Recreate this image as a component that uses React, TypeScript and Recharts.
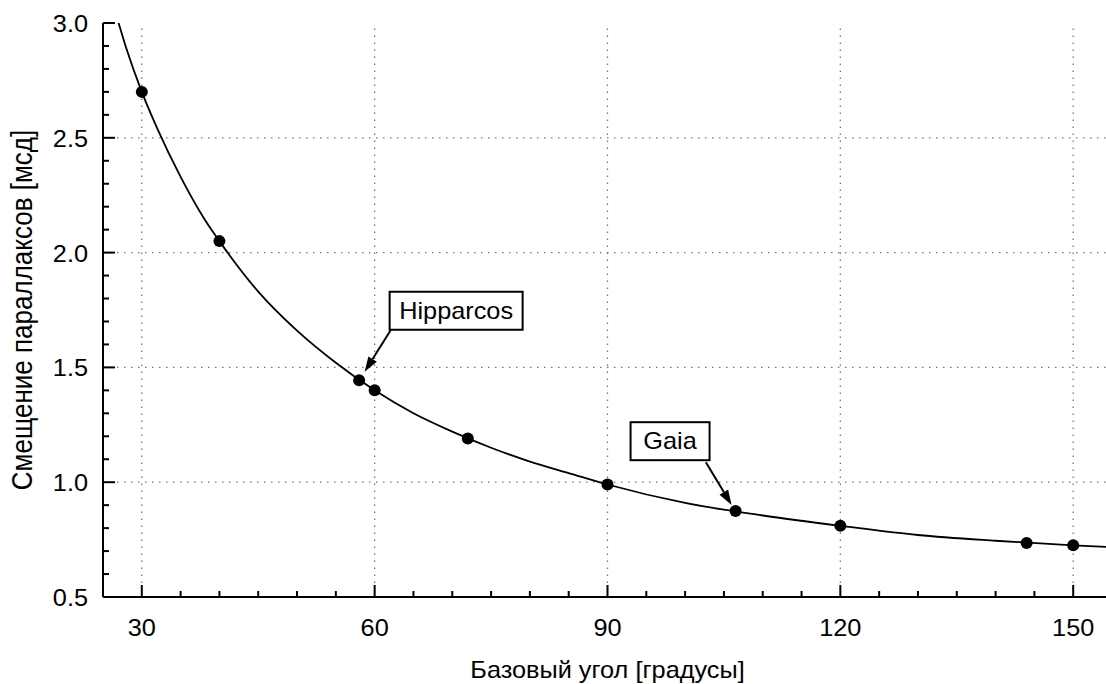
import { ComposedChart, Line, Scatter, XAxis, YAxis, ReferenceLine, ReferenceDot } from "recharts";

// fitted curve
const curveX = [26.5, 27, 28, 30, 32, 35, 38, 40, 45, 50, 55, 60, 65, 70, 75, 80, 85, 90, 100, 110, 120, 130, 140, 150, 155];
const curveY = [3.05, 3.0, 2.89, 2.7, 2.54, 2.33, 2.15, 2.05, 1.83, 1.66, 1.52, 1.4, 1.3, 1.22, 1.15, 1.09, 1.04, 0.99, 0.91, 0.855, 0.81, 0.77, 0.745, 0.725, 0.717];

// measured points
const pointX = [30, 40, 58, 60, 72, 90, 106.5, 120, 144, 150];
const pointY = [2.7, 2.05, 1.444, 1.4, 1.19, 0.99, 0.875, 0.81, 0.735, 0.725];

const xTicks = [25, 30, 35, 40, 45, 50, 55, 60, 65, 70, 75, 80, 85, 90, 95, 100, 105, 110, 115, 120, 125, 130, 135, 140, 145, 150, 155];
const xLabels = [30, 60, 90, 120, 150];
const yTicks = [0.5, 0.6, 0.7, 0.8, 0.9, 1.0, 1.1, 1.2, 1.3, 1.4, 1.5, 1.6, 1.7, 1.8, 1.9, 2.0, 2.1, 2.2, 2.3, 2.4, 2.5, 2.6, 2.7, 2.8, 2.9, 3.0];
const yLabels = [0.5, 1.0, 1.5, 2.0, 2.5, 3.0];

const annotationNames = ["Hipparcos", "Gaia"];
const annotationX = [58, 106.5];
const annotationY = [1.444, 0.875];

const xTitle = "Базовый угол [градусы]";
const yTitle = "Смещение параллаксов [мсд]";

const curveData = curveX.map((x, i) => ({ x, y: curveY[i] }));
const pointData = pointX.map((x, i) => ({ x, y: pointY[i] }));

const FONT = "'Liberation Sans', Arial, sans-serif";
const SX = 1.1; // the picture is a little wider than tall

// label box placement relative to the point it marks (px)
const boxOffsets: Record<string, { bx: number; by: number; bw: number; bh: number; ax: number; ay: number; tx: number; ty: number }> = {
  Hipparcos: { bx: 30.5, by: -88.5, bw: 133, bh: 38, ax: 31.5, ay: -50, tx: 5.5, ty: -8.5 },
  Gaia: { bx: -105, by: -88.7, bw: 79, bh: 38, ax: -29.7, ay: -48.7, tx: -4, ty: -6 },
};

const isMajor = (list: number[], v: number) => list.some((l) => Math.abs(l - v) < 1e-6);

function Txt({ x, y, size, anchor = "middle", rotate = 0, children }: any) {
  const tr = `translate(${x},${y}) scale(${SX},1)` + (rotate ? ` rotate(${rotate})` : "");
  return (
    <text transform={tr} x={0} y={0} textAnchor={anchor} fontSize={size} fontFamily={FONT} fill="#000">
      {children}
    </text>
  );
}

function XTick({ x, y, payload, top }: any) {
  const major = isMajor(xLabels, payload.value);
  const len = major ? 12 : 6;
  return (
    <g>
      <line x1={x} x2={x} y1={y} y2={top ? y + len : y - len} stroke="#000" strokeWidth={2} />
      {!top && major && (
        <Txt x={x} y={y + 39} size={23}>
          {payload.value}
        </Txt>
      )}
    </g>
  );
}

function YTick({ x, y, payload, right }: any) {
  const major = isMajor(yLabels, payload.value);
  const len = major ? 12 : 6;
  return (
    <g>
      <line x1={x} x2={right ? x - len : x + len} y1={y} y2={y} stroke="#000" strokeWidth={2} />
      {!right && major && (
        <Txt x={x - 15} y={y + 9} size={23} anchor="end">
          {payload.value.toFixed(1)}
        </Txt>
      )}
    </g>
  );
}

function Callout({ cx, cy, name }: any) {
  const o = boxOffsets[name];
  const x1 = cx + o.ax, y1 = cy + o.ay, x2 = cx + o.tx, y2 = cy + o.ty;
  const dx = x2 - x1, dy = y2 - y1;
  const d = Math.hypot(dx, dy);
  const ux = dx / d, uy = dy / d;
  const hl = 15, hw = 5;
  const bx = x2 - ux * hl, by = y2 - uy * hl;
  const head = `${x2},${y2} ${bx - uy * hw},${by + ux * hw} ${bx + uy * hw},${by - ux * hw}`;
  return (
    <g>
      <line x1={x1} y1={y1} x2={bx} y2={by} stroke="#000" strokeWidth={2} />
      <polygon points={head} fill="#000" />
      <rect x={cx + o.bx} y={cy + o.by} width={o.bw} height={o.bh} fill="#fff" stroke="#000" strokeWidth={2} />
      <Txt x={cx + o.bx + o.bw / 2} y={cy + o.by + o.bh / 2 + 8} size={23}>
        {name}
      </Txt>
    </g>
  );
}

const axisLine = { stroke: "#000", strokeWidth: 2 };

export default function App() {
  return (
    <div style={{ position: "absolute", left: 0, top: 0, width: 1106, height: 684, overflow: "hidden", background: "#fff" }}>
      <ComposedChart width={1120} height={684} margin={{ top: 23, right: 8, bottom: 0, left: 0 }}>
        <XAxis
          type="number"
          dataKey="x"
          domain={[25, 155]}
          allowDataOverflow
          ticks={xTicks}
          interval={0}
          height={87}
          tickSize={0}
          tickMargin={0}
          tickLine={false}
          axisLine={axisLine}
          tick={<XTick />}
          label={({ viewBox }: any) => (
            <Txt x={viewBox.x + viewBox.width / 2} y={678} size={23}>
              {xTitle}
            </Txt>
          )}
        />
        <XAxis
          xAxisId="top"
          orientation="top"
          type="number"
          domain={[25, 155]}
          allowDataOverflow
          ticks={xTicks}
          interval={0}
          height={0}
          tickSize={0}
          tickMargin={0}
          tickLine={false}
          axisLine={axisLine}
          tick={<XTick top />}
        />
        <YAxis
          type="number"
          dataKey="y"
          domain={[0.5, 3]}
          allowDataOverflow
          ticks={yTicks}
          interval={0}
          width={103}
          tickSize={0}
          tickMargin={0}
          tickLine={false}
          axisLine={axisLine}
          tick={<YTick />}
          label={({ viewBox }: any) => (
            <Txt x={32} y={viewBox.y + viewBox.height / 2} size={26} rotate={-90}>
              {yTitle}
            </Txt>
          )}
        />
        <YAxis
          yAxisId="right"
          orientation="right"
          type="number"
          domain={[0.5, 3]}
          allowDataOverflow
          ticks={yTicks}
          interval={0}
          width={0}
          tickSize={0}
          tickMargin={0}
          tickLine={false}
          axisLine={axisLine}
          tick={<YTick right />}
        />
        {xLabels.map((v) => (
          <ReferenceLine key={"gx" + v} x={v} stroke="#777" strokeWidth={1.3} strokeDasharray="1.5 5.5" />
        ))}
        {yLabels.slice(1, -1).map((v) => (
          <ReferenceLine key={"gy" + v} y={v} stroke="#777" strokeWidth={1.3} strokeDasharray="1.5 5.5" />
        ))}
        <Line
          data={curveData}
          dataKey="y"
          type="monotone"
          stroke="#000"
          strokeWidth={1.8}
          dot={false}
          activeDot={false}
          isAnimationActive={false}
        />
        <Scatter
          data={pointData}
          dataKey="y"
          fill="#000"
          isAnimationActive={false}
          shape={(p: any) => <circle cx={p.cx} cy={p.cy} r={6} fill="#000" />}
        />
        {annotationNames.map((name, i) => (
          <ReferenceDot
            key={name}
            x={annotationX[i]}
            y={annotationY[i]}
            shape={(p: any) => <Callout cx={p.cx} cy={p.cy} name={name} />}
          />
        ))}
      </ComposedChart>
    </div>
  );
}
